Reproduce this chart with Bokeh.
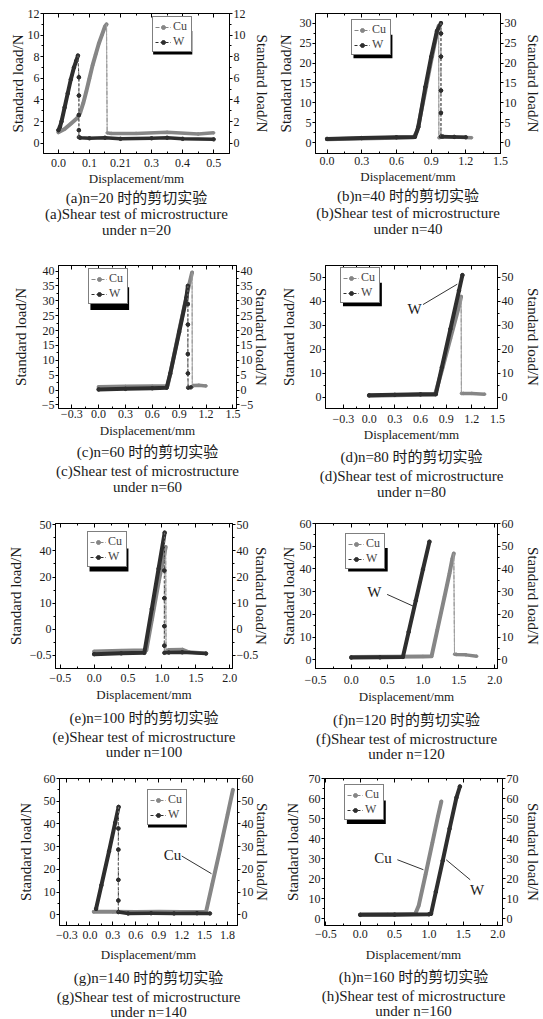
from bokeh.plotting import figure
from bokeh.models import Range1d, LinearAxis, FixedTicker, Legend, LegendItem, Label, Title, BoxAnnotation
from bokeh.layouts import column, row
from bokeh.embed import file_html
from bokeh.resources import INLINE

SERIF = "'Liberation Serif', 'Noto Sans CJK SC', serif"
CU_COLOR = "#868686"
W_COLOR = "#2e2e2e"
TXT = "#1a1a1a"
Y_TITLE = "Standard load/N"
X_TITLE = "Displacement/mm"

# ---------------- (a) n=20 ----------------
A_X_TICKS = [0.0, 0.1, 0.2, 0.3, 0.4, 0.5]
A_X_LABELS = ["0.0", "0.1", "0.21", "0.3", "0.4", "0.5"]
A_Y_TICKS = [0, 2, 4, 6, 8, 10, 12]
A_Y_LABELS = ["0", "2", "4", "6", "8", "10", "12"]
A_CU_X = [0.0, 0.02, 0.04, 0.06, 0.07, 0.08, 0.09, 0.10, 0.11, 0.12, 0.13, 0.14, 0.15, 0.155,
          0.157, 0.17, 0.25, 0.35, 0.45, 0.5]
A_CU_Y = [1.0, 1.3, 1.8, 2.3, 2.8, 3.7, 4.8, 6.0, 7.2, 8.2, 9.2, 10.0, 10.8, 11.0,
          0.95, 0.9, 0.9, 1.0, 0.85, 0.95]
A_W_X = [0.0, 0.005, 0.01, 0.02, 0.03, 0.04, 0.05, 0.057, 0.063, 0.066, 0.066, 0.066, 0.066, 0.066,
         0.07, 0.1, 0.15, 0.2, 0.3, 0.35, 0.4, 0.5]
A_W_Y = [1.2, 1.5, 2.0, 3.3, 4.6, 5.9, 7.0, 7.6, 8.1, 6.1, 4.4, 2.6, 1.2, 0.55,
         0.5, 0.45, 0.5, 0.4, 0.45, 0.5, 0.4, 0.35]

# ---------------- (b) n=40 ----------------
B_X_TICKS = [0.0, 0.3, 0.6, 0.9, 1.2, 1.5]
B_X_LABELS = ["0.0", "0.3", "0.6", "0.9", "1.2", "1.5"]
B_Y_TICKS = [0, 5, 10, 15, 20, 25, 30]
B_Y_LABELS = ["0", "5", "10", "15", "20", "25", "30"]
B_CU_X = [0.0, 0.3, 0.6, 0.75, 0.78, 0.85, 0.9, 0.95, 0.965, 0.967, 0.98, 1.1, 1.25]
B_CU_Y = [0.9, 1.1, 1.3, 1.4, 3.0, 13.0, 20.5, 27.5, 29.3, 1.3, 1.4, 1.5, 1.3]
B_W_X = [0.0, 0.3, 0.6, 0.76, 0.79, 0.85, 0.9, 0.95, 0.985, 0.985, 0.985, 0.985, 0.985, 0.985,
         1.0, 1.1, 1.2]
B_W_Y = [1.0, 1.2, 1.4, 1.5, 4.0, 14.0, 21.5, 28.0, 30.0, 27.4, 21.6, 13.1, 7.5, 1.6,
         1.6, 1.5, 1.4]

# ---------------- (c) n=60 ----------------
C_X_TICKS = [-0.3, 0.0, 0.3, 0.6, 0.9, 1.2, 1.5]
C_X_LABELS = ["\u22120.3", "0.0", "0.3", "0.6", "0.9", "1.2", "1.5"]
C_Y_TICKS = [-5, 0, 5, 10, 15, 20, 25, 30, 35, 40]
C_Y_LABELS = ["\u22125", "0", "5", "10", "15", "20", "25", "30", "35", "40"]
C_CU_X = [0.0, 0.3, 0.6, 0.77, 0.8, 0.9, 1.0, 1.044, 1.046, 1.06, 1.12, 1.2]
C_CU_Y = [1.0, 1.2, 1.3, 1.4, 5.5, 20.0, 34.0, 39.5, 1.2, 1.5, 1.6, 1.4]
C_W_X = [0.0, 0.3, 0.6, 0.76, 0.8, 0.9, 0.98, 0.997, 0.997, 0.997, 0.997, 0.997, 1.0, 1.03]
C_W_Y = [0.2, 0.4, 0.6, 0.8, 5.5, 19.5, 31.0, 35.0, 28.9, 22.0, 12.1, 5.6, 0.8, 0.9]

# ---------------- (d) n=80 ----------------
D_X_TICKS = [-0.3, 0.0, 0.3, 0.6, 0.9, 1.2, 1.5]
D_X_LABELS = ["\u22120.3", "0.0", "0.3", "0.6", "0.9", "1.2", "1.5"]
D_Y_TICKS = [0, 10, 20, 30, 40, 50]
D_Y_LABELS = ["0", "10", "20", "30", "40", "50"]
D_CU_X = [0.0, 0.3, 0.6, 0.77, 0.85, 0.95, 1.05, 1.075, 1.078, 1.1, 1.2, 1.35]
D_CU_Y = [0.6, 0.8, 1.0, 1.1, 11.2, 24.6, 38.0, 42.0, 1.6, 1.6, 1.6, 1.3]
D_W_X = [0.0, 0.3, 0.6, 0.78, 0.85, 0.95, 1.05, 1.09]
D_W_Y = [0.8, 1.0, 1.2, 1.3, 12.5, 28.5, 44.5, 51.0]
D_NOTE = [("W", 0.53, 37.0, [0.63, 1.03], [38.7, 47.2])]

# ---------------- (e) n=100 ----------------
E_X_TICKS = [-0.5, 0.0, 0.5, 1.0, 1.5, 2.0]
E_X_LABELS = ["\u22120.5", "0.0", "0.5", "1.0", "1.5", "2.0"]
E_Y_TICKS = [0, 10, 20, 30, 40, 50]
E_Y_LABELS = ["\u22120.5", "0", "10", "20", "40", "50"]
E_CU_X = [0.0, 0.4, 0.77, 0.85, 0.95, 1.055, 1.06, 1.1, 1.3, 1.4, 1.65]
E_CU_Y = [1.5, 1.8, 2.0, 13.5, 28.0, 41.5, 1.5, 2.2, 2.3, 1.3, 0.8]
E_W_X = [0.0, 0.4, 0.74, 0.85, 0.95, 1.04, 1.035, 1.035, 1.035, 1.035, 1.035, 1.1, 1.3, 1.65]
E_W_Y = [0.5, 0.8, 1.0, 17.8, 33.2, 47.0, 32.5, 21.9, 11.2, 3.75, 1.0, 1.1, 1.2, 0.7]

# ---------------- (f) n=120 ----------------
F_X_TICKS = [-0.5, 0.0, 0.5, 1.0, 1.5, 2.0]
F_X_LABELS = ["\u22120.5", "0.0", "0.5", "1.0", "1.5", "2.0"]
F_Y_TICKS = [0, 10, 20, 30, 40, 50, 60]
F_Y_LABELS = ["0", "10", "20", "30", "40", "50", "60"]
F_CU_X = [0.0, 0.5, 1.0, 1.12, 1.2, 1.3, 1.37, 1.41, 1.43, 1.44, 1.47, 1.6, 1.75]
F_CU_Y = [1.3, 1.4, 1.5, 1.6, 13.2, 27.7, 38.0, 44.5, 46.8, 2.5, 2.4, 2.2, 1.6]
F_W_X = [0.0, 0.4, 0.72, 0.8, 0.9, 1.0, 1.09]
F_W_Y = [1.0, 1.1, 1.3, 12.3, 26.1, 39.9, 52.0]
F_NOTE = [("W", 0.32, 29.9, [0.5, 0.873], [28.8, 23.5])]

# ---------------- (g) n=140 ----------------
G_X_TICKS = [-0.3, 0.0, 0.3, 0.6, 0.9, 1.2, 1.5, 1.8]
G_X_LABELS = ["\u22120.3", "0.0", "0.3", "0.6", "0.9", "1.2", "1.5", "1.8"]
G_Y_TICKS = [0, 10, 20, 30, 40, 50, 60]
G_Y_LABELS = ["0", "10", "20", "30", "40", "50", "60"]
G_CU_X = [0.05, 0.3, 0.6, 0.9, 1.2, 1.5, 1.52, 1.6, 1.7, 1.8, 1.87]
G_CU_Y = [1.3, 1.3, 1.2, 1.3, 1.2, 1.3, 1.5, 13.5, 28.5, 44.0, 55.0]
G_W_X = [0.08, 0.15, 0.25, 0.33, 0.375, 0.372, 0.372, 0.372, 0.372, 0.372, 0.5, 0.8, 1.1, 1.4, 1.57]
G_W_Y = [2.6, 13.0, 28.0, 40.5, 47.5, 38.0, 28.7, 15.4, 6.3, 1.2, 0.6, 0.7, 0.6, 0.7, 0.6]
G_NOTE = [("Cu", 1.08, 26.5, [1.2, 1.59], [25.9, 18.1])]

# ---------------- (h) n=160 ----------------
H_X_TICKS = [-0.5, 0.0, 0.5, 1.0, 1.5, 2.0]
H_X_LABELS = ["\u22120.5", "0.0", "0.5", "1.0", "1.5", "2.0"]
H_Y_TICKS = [0, 10, 20, 30, 40, 50, 60, 70]
H_Y_LABELS = ["0", "10", "20", "30", "40", "50", "60", "70"]
H_CU_X = [0.0, 0.4, 0.8, 0.85, 0.95, 1.05, 1.13, 1.18]
H_CU_Y = [2.2, 2.3, 2.4, 6.5, 22.0, 38.0, 51.0, 58.5]
H_W_X = [0.0, 0.5, 1.0, 1.03, 1.1, 1.2, 1.3, 1.4, 1.45]
H_W_Y = [2.0, 2.1, 2.3, 2.5, 13.5, 29.0, 45.0, 60.5, 66.0]
H_NOTE = [("Cu", 0.33, 30.3, [0.54, 0.92], [29.5, 24.5]),
          ("W", 1.70, 14.6, [1.60, 1.25], [19.5, 29.5])]

CAPTIONS = {
    "a": ("(a)n=20 时的剪切实验", "(a)Shear test of microstructure", "under n=20"),
    "b": ("(b)n=40 时的剪切实验", "(b)Shear test of microstructure", "under n=40"),
    "c": ("(c)n=60 时的剪切实验", "(c)Shear test of microstructure", "under n=60"),
    "d": ("(d)n=80 时的剪切实验", "(d)Shear test of microstructure", "under n=80"),
    "e": ("(e)n=100 时的剪切实验", "(e)Shear test of microstructure", "under n=100"),
    "f": ("(f)n=120 时的剪切实验", "(f)Shear test of microstructure", "under n=120"),
    "g": ("(g)n=140 时的剪切实验", "(g)Shear test of microstructure", "under n=140"),
    "h": ("(h)n=160 时的剪切实验", "(h)Shear test of microstructure", "under n=160"),
}

LEG_W, LEG_H = 38, 27.6


def split_series(ys):
    k = max(range(len(ys)), key=lambda i: ys[i])
    thr = 0.05 * ys[k]
    j = k
    while j + 1 < len(ys) and ys[j + 1] < ys[j] - thr:
        j += 1
    return k, j


def style_axis(ax, ticks, labels, minor, show_labels=True, tick_in=0, tick_out=3, standoff=1,
               title=None, title_size="15px", title_standoff=0):
    ax.ticker = FixedTicker(ticks=ticks, minor_ticks=minor)
    ax.major_label_overrides = {t: l for t, l in zip(ticks, labels)}
    ax.major_tick_in = tick_in
    ax.major_tick_out = tick_out
    ax.minor_tick_in = 2 if tick_in else 0
    ax.minor_tick_out = 0 if tick_in else 2
    ax.axis_line_color = "black"
    ax.major_tick_line_color = "black"
    ax.minor_tick_line_color = "black"
    ax.major_label_text_font = SERIF
    ax.major_label_text_color = TXT if show_labels else None
    ax.major_label_text_font_size = "12px" if show_labels else "0px"
    ax.major_label_standoff = standoff if show_labels else 0
    if title:
        ax.axis_label = title
        ax.axis_label_text_font = SERIF
        ax.axis_label_text_font_style = "normal"
        ax.axis_label_text_font_size = title_size
        ax.axis_label_text_color = TXT
        ax.axis_label_standoff = title_standoff


def minor_of(ticks):
    return [(a + b) / 2.0 for a, b in zip(ticks[:-1], ticks[1:])]


def make_panel(key, geom, xr, yr, xt, xl, yt, yl, cu, w, legend_at, offs, notes=()):
    W, H, L, R, T, B = geom
    x_so, x_ls, yl_s, yr_s, s1, s = offs
    p = figure(width=W, height=H, x_range=Range1d(*xr), y_range=Range1d(*yr),
               output_backend="svg", toolbar_location=None, tools="",
               min_border_left=L, min_border_right=R, min_border_top=T, min_border_bottom=B)
    p.xgrid.visible = False
    p.ygrid.visible = False
    p.outline_line_color = "black"
    p.background_fill_color = "white"
    p.border_fill_color = "white"

    xm, ym = minor_of(xt), minor_of(yt)
    style_axis(p.xaxis[0], xt, xl, xm, True, tick_in=4, tick_out=0, standoff=x_so,
               title=X_TITLE, title_size="13px", title_standoff=x_ls)
    style_axis(p.yaxis[0], yt, yl, ym, True, tick_in=0, tick_out=3, standoff=1,
               title=Y_TITLE, title_size="15px", title_standoff=yl_s)
    top = LinearAxis()
    style_axis(top, xt, xl, xm, False, tick_in=4, tick_out=0)
    p.add_layout(top, "above")
    right = LinearAxis()
    style_axis(right, yt, yl, ym, True, tick_in=0, tick_out=3, standoff=1,
               title=Y_TITLE, title_size="15px", title_standoff=yr_s)
    p.add_layout(right, "right")

    for (xs, ys), color, is_w in ((cu, CU_COLOR, False), (w, W_COLOR, True)):
        k, j = split_series(ys)
        if is_w:
            leg_line = p.line(xs, ys, line_color=W_COLOR, line_width=1, line_dash="3 2")
            leg_pt = p.scatter(xs, ys, size=3.5, color=W_COLOR)
            w_items = [leg_line, leg_pt]
        else:
            leg_line = p.line(xs, ys, line_color=CU_COLOR, line_width=1, line_dash="4 2 1 2")
            leg_pt = p.scatter(xs, ys, size=2.5, color=CU_COLOR)
            cu_items = [leg_line, leg_pt]
        p.line(xs[:k + 1], ys[:k + 1], line_color=color, line_width=4, line_join="round", line_cap="round")
        if j > k:
            if is_w:
                p.line(xs[k:j + 1], ys[k:j + 1], line_color="#777777", line_width=1, line_dash="2 2")
                p.scatter(xs[k + 1:j], ys[k + 1:j], size=3.5, color=W_COLOR)
            else:
                p.line(xs[k:j + 1], ys[k:j + 1], line_color="#a0a0a0", line_width=1)
        if j < len(xs) - 1:
            p.line(xs[j:], ys[j:], line_color=color, line_width=3.5, line_join="round")

    for txt, tx, ty, lx, ly in notes:
        p.line(lx, ly, line_color="#333333", line_width=1)
        p.add_layout(Label(x=tx, y=ty, text=txt, text_font=SERIF, text_font_size="15px",
                           text_color=TXT, text_align="center", text_baseline="middle"))

    fw = W - L - R
    fh = H - T - B
    dx = (xr[1] - xr[0]) / fw
    dy = (yr[1] - yr[0]) / fh
    lx, ly = legend_at
    lb = fh - ly - 26
    # legend drop shadow (to the right of and below the box)
    p.add_layout(BoxAnnotation(left=xr[0] + (lx + 3) * dx, right=xr[0] + (lx + LEG_W + 5) * dx,
                               bottom=yr[0] + (lb - 2) * dy, top=yr[0] + (lb + LEG_H - 6) * dy,
                               fill_color="black", fill_alpha=1.0, line_color=None))
    legend = Legend(items=[LegendItem(label="Cu", renderers=cu_items),
                           LegendItem(label="W", renderers=w_items)],
                    location=(lx, lb),
                    label_text_font=SERIF, label_text_font_size="12px",
                    label_height=10, label_width=16, glyph_height=10, glyph_width=16, label_standoff=2,
                    padding=2, spacing=-3, margin=0,
                    border_line_color="black", border_line_width=1,
                    background_fill_color="white", background_fill_alpha=1.0)
    p.add_layout(legend)

    for i, line in enumerate(CAPTIONS[key]):
        p.add_layout(Title(text=line, align="center", text_font=SERIF, text_font_size="15px",
                           text_font_style="normal", text_color=TXT,
                           standoff=(s1 if i == 0 else s)), "below")
    return p


# row heights: 237, 262, 262, 258 (total 1019)
pa = make_panel("a", (272, 237, 43, 39, 13, 84), (-0.048, 0.551), (-0.96, 12),
                A_X_TICKS, A_X_LABELS, A_Y_TICKS, A_Y_LABELS, (A_CU_X, A_CU_Y), (A_W_X, A_W_Y), (109, 13),
                (5, 1, -1, 5, -2, -2))
pb = make_panel("b", (271, 237, 43, 38, 13, 83), (-0.1, 1.5), (-2.66, 32.4),
                B_X_TICKS, B_X_LABELS, B_Y_TICKS, B_Y_LABELS, (B_CU_X, B_CU_Y), (B_W_X, B_W_Y), (36, 17),
                (3, 1, 3, 5, -1, -2))
pc = make_panel("c", (272, 262, 58, 30, 28, 86), (-0.448, 1.54), (-6.2, 41.85),
                C_X_TICKS, C_X_LABELS, C_Y_TICKS, C_Y_LABELS, (C_CU_X, C_CU_Y), (C_W_X, C_W_Y), (30, 18),
                (1, 2, 10, -3, 3, -2))
pd_ = make_panel("d", (271, 262, 53, 41, 27, 91), (-0.51, 1.5), (-4.7, 55),
                 D_X_TICKS, D_X_LABELS, D_Y_TICKS, D_Y_LABELS, (D_CU_X, D_CU_Y), (D_W_X, D_W_Y), (15, 13),
                 (6, 1, 10, 8, 4, -2), D_NOTE)
pe = make_panel("e", (272, 262, 55, 35, 23, 91), (-0.57, 2.04), (-5, 50.5),
                E_X_TICKS, E_X_LABELS, E_Y_TICKS, E_Y_LABELS, (E_CU_X, E_CU_Y), (E_W_X, E_W_Y), (32, 21),
                (5, 2, 3, -8, 6, -3))
pf = make_panel("f", (271, 262, 43, 44, 24, 93), (-0.5, 2.04), (-3.8, 60),
                F_X_TICKS, F_X_LABELS, F_Y_TICKS, F_Y_LABELS, (F_CU_X, F_CU_Y), (F_W_X, F_W_Y), (30, 20),
                (7, 2, 0, 8, 6, -3), F_NOTE)
pg = make_panel("g", (272, 258, 59, 30, 17, 94), (-0.398, 1.93), (-4.7, 60),
                G_X_TICKS, G_X_LABELS, G_Y_TICKS, G_Y_LABELS, (G_CU_X, G_CU_Y), (G_W_X, G_W_Y), (88, 21),
                (5, 5, 7, -3, 6, -3), G_NOTE)
ph = make_panel("h", (271, 258, 52, 36, 16, 93), (-0.52, 2.07), (-3.3, 70),
                H_X_TICKS, H_X_LABELS, H_Y_TICKS, H_Y_LABELS, (H_CU_X, H_CU_Y), (H_W_X, H_W_Y), (20, 18),
                (4, 6, 5, 3, 5, -3), H_NOTE)

layout = column(row(pa, pb), row(pc, pd_), row(pe, pf), row(pg, ph))
open("out.html", "w").write(file_html(layout, INLINE))
